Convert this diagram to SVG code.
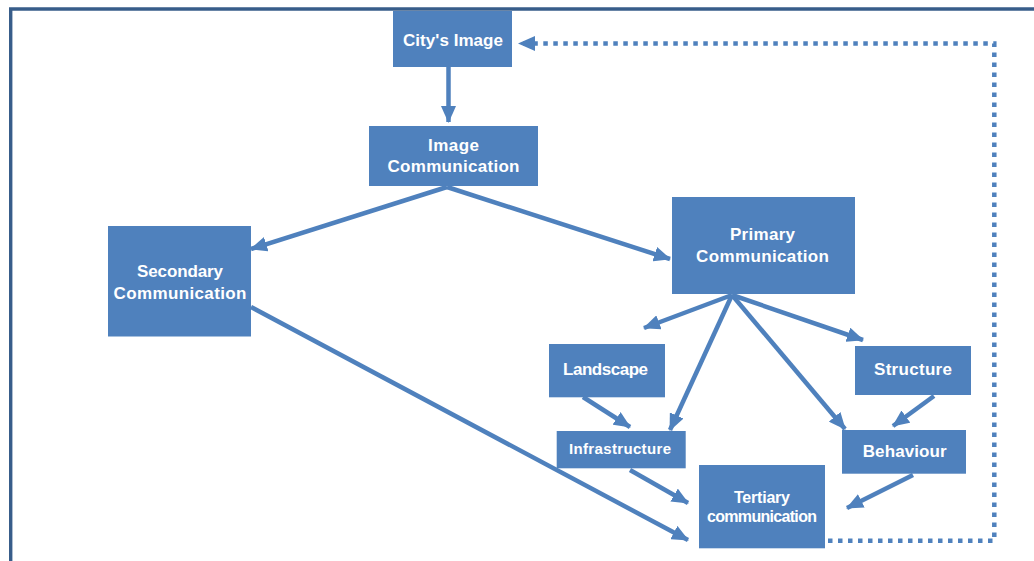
<svg xmlns="http://www.w3.org/2000/svg" width="1034" height="561" viewBox="0 0 1034 561">
  <style>
    .box { fill: #4F81BD; }
    .lbl { fill: #FFFFFF; font-family: "Liberation Sans", Arial, sans-serif; font-weight: bold; font-size: 17px; text-anchor: middle; }
    .sm { font-size: 15px; }
    .md { font-size: 16px; }
    .conn { stroke: #4F81BD; stroke-width: 4.5; fill: none; marker-end: url(#arrow); }
    .dot { stroke: #4F81BD; stroke-width: 4.5; fill: none; stroke-dasharray: 4.5 5.5; marker-end: url(#arrow); }
  </style>
  <defs>
    <marker id="arrow" viewBox="0 0 17 15" refX="16" refY="7.5" markerWidth="17" markerHeight="15" markerUnits="userSpaceOnUse" orient="auto">
      <path d="M0,0 L17,7.5 L0,15 Z" fill="#4F81BD"/>
    </marker>
  </defs>
  <rect width="1034" height="561" fill="#FFFFFF"/>
  <path d="M10.7,561 V9 H1034" fill="none" stroke="#385D8A" stroke-width="3.4"/>

  <g id="connectors">
    <path class="conn" d="M448.5,67 L448.5,122"/>
    <path class="conn" d="M447,187 L251,249"/>
    <path class="conn" d="M447,187 L670,259"/>
    <path class="conn" d="M732,295 L644,328"/>
    <path class="conn" d="M732,295 L670,430"/>
    <path class="conn" d="M732,295 L845,429"/>
    <path class="conn" d="M732,295 L863,340"/>
    <path class="conn" d="M583,397 L630,427"/>
    <path class="conn" d="M934,396 L893,426"/>
    <path class="conn" d="M630,470 L688,503"/>
    <path class="conn" d="M913,475 L847,508"/>
    <path class="conn" d="M251,307 L688,540"/>
    <path class="dot" d="M828,540.7 H994.3 V43.5 H519"/>
  </g>

  <g id="citys-image">
    <rect class="box" x="393" y="11" width="119" height="56"/>
    <text class="lbl" x="453" y="45.7" textLength="100">City's Image</text>
  </g>
  <g id="image-communication">
    <rect class="box" x="369" y="126" width="169" height="60"/>
    <text class="lbl" x="453.5" y="150.7" textLength="51">Image</text>
    <text class="lbl" x="453.5" y="171.7" textLength="132">Communication</text>
  </g>
  <g id="secondary-communication">
    <rect class="box" x="108" y="226" width="143" height="110.5"/>
    <text class="lbl" x="180" y="277.3" textLength="86">Secondary</text>
    <text class="lbl" x="180" y="299" textLength="133">Communication</text>
  </g>
  <g id="primary-communication">
    <rect class="box" x="672" y="197" width="183" height="97"/>
    <text class="lbl" x="762.5" y="240" textLength="65">Primary</text>
    <text class="lbl" x="762.5" y="261.7" textLength="133">Communication</text>
  </g>
  <g id="landscape">
    <rect class="box" x="549" y="344" width="116" height="53.3"/>
    <text class="lbl" x="605.5" y="375" textLength="85">Landscape</text>
  </g>
  <g id="structure">
    <rect class="box" x="855" y="346" width="116" height="49"/>
    <text class="lbl" x="913" y="375" textLength="78">Structure</text>
  </g>
  <g id="infrastructure">
    <rect class="box" x="556.7" y="431" width="129" height="37.3"/>
    <text class="lbl sm" x="620" y="454.3" textLength="102">Infrastructure</text>
  </g>
  <g id="behaviour">
    <rect class="box" x="842" y="430" width="124" height="43.7"/>
    <text class="lbl" x="904.7" y="456.7" textLength="84">Behaviour</text>
  </g>
  <g id="tertiary-communication">
    <rect class="box" x="699" y="465" width="126" height="83.3"/>
    <text class="lbl md" x="762" y="502.7" textLength="56">Tertiary</text>
    <text class="lbl md" x="762" y="521.7" textLength="110">communication</text>
  </g>
</svg>
